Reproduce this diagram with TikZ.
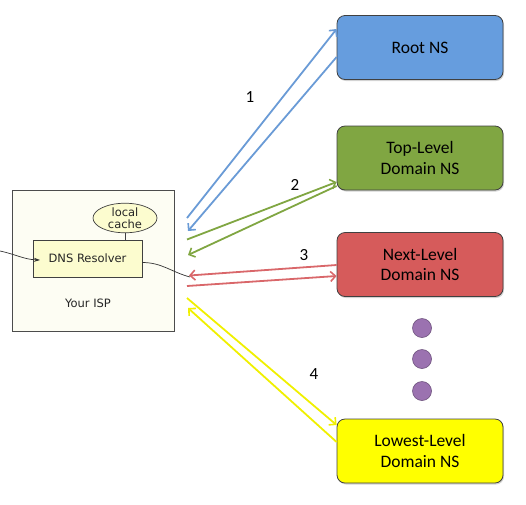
\documentclass[tikz,border=0pt]{standalone}
\usepackage{fontspec}
\setmainfont{Carlito}
\newfontfamily\ispfont{DejaVu Sans}
\usetikzlibrary{arrows.meta,shapes.geometric,shadows,calc}
\definecolor{rootfill}{HTML}{669DDE}
\definecolor{tldfill}{HTML}{80A642}
\definecolor{nextfill}{HTML}{D65B5B}
\definecolor{lowfill}{HTML}{FFFF00}
\definecolor{dotfill}{HTML}{9B72B0}
\definecolor{bluearr}{HTML}{6A9BD6}
\definecolor{greenarr}{HTML}{80A642}
\definecolor{redarr}{HTML}{D9676A}
\definecolor{yellowarr}{HTML}{F0F000}
\definecolor{ispfill}{HTML}{FDFDF3}
\definecolor{resfill}{HTML}{FCFCCF}
\begin{document}
\begin{tikzpicture}[x=1pt,y=-1pt,
  nsbox/.style={draw=black!75, line width=0.8pt, rounded corners=8pt,
    minimum width=166pt, minimum height=64pt, align=center,
    font=\fontsize{17.5}{20.5}\selectfont,
    drop shadow={opacity=0.35, shadow xshift=1pt, shadow yshift=-1.5pt}},
  dotnode/.style={circle, draw=dotfill!70!black, line width=0.6pt, fill=dotfill, minimum size=19pt, inner sep=0pt},
  arr/.style={line width=1.8pt, -{Straight Barb[length=5pt,width=10pt,line width=1.6pt]}},
  num/.style={font=\fontsize{17}{19}\selectfont, text=black},
  isptext/.style={font=\ispfont\fontsize{11.5}{12}\selectfont, text=black!85}]
\useasboundingbox (0,0) rectangle (526,504);

% NS boxes
\node[nsbox, fill=rootfill] (root) at (420,47.5) {Root NS};
\node[nsbox, fill=tldfill] (tld) at (420,158) {Top-Level\\Domain NS};
\node[nsbox, fill=nextfill] (next) at (420,264.5) {Next-Level\\Domain NS};
\node[nsbox, fill=lowfill] (low) at (420,451) {Lowest-Level\\Domain NS};

% dots
\node[dotnode] (d1) at (422,328) {};
\node[dotnode] (d2) at (422,359) {};
\node[dotnode] (d3) at (422,391) {};

% ISP box
\node[draw=black!70, line width=0.7pt, fill=ispfill, minimum width=162pt, minimum height=141pt] (isp) at (93,260.5) {};
\node[isptext] (isplabel) at (88,303) {Your ISP};
\node[draw=black!75, line width=0.7pt, fill=resfill, minimum width=109pt, minimum height=37pt, isptext] (res) at (87.5,258.5) {DNS Resolver};
\node[ellipse, draw=black!75, line width=0.7pt, fill=resfill, minimum width=64pt, minimum height=29pt, inner sep=0pt, align=center, isptext, font=\ispfont\fontsize{11.5}{12}\selectfont] (cache) at (125,218) {local\\cache};
\draw[black!75, line width=0.7pt] (cache.south) -- (cache.south |- res.north);

% client link
\coordinate (client) at (0,251);
\coordinate (restip) at (40,260);
\draw[black!80, line width=0.7pt, -{Stealth[length=6pt,width=4pt]}] (client) to[out=-12,in=178] (restip);
\coordinate (outend) at (190,277);
\coordinate (resout) at ($(res.east)+(0,4)$);
\draw[black!80, line width=0.7pt] (resout) to[out=0,in=165] (outend);

% ISP-side endpoints
\coordinate (b1s) at (187,218);
\coordinate (b2e) at (188,231);
\coordinate (g1s) at (187,239.5);
\coordinate (g2e) at (188,255);
\coordinate (r1e) at (189,275.5);
\coordinate (r2s) at (187,286);
\coordinate (y1s) at (187,298);
\coordinate (y2e) at (188,308);

% NS-side endpoints
\coordinate (b1e) at ($(root.west)+(0,-18.5)$);
\coordinate (b2s) at ($(root.west)+(0,9.5)$);
\coordinate (g1e) at ($(tld.west)+(0,24)$);
\coordinate (g2s) at ($(tld.west)+(0,28)$);
\coordinate (r1s) at ($(next.west)+(0,0.5)$);
\coordinate (r2e) at ($(next.west)+(0,11.5)$);
\coordinate (y1e) at ($(low.west)+(0,-26)$);
\coordinate (y2s) at ($(low.west)+(0,-9)$);

\draw[arr, bluearr] (b1s) -- (b1e);
\draw[arr, bluearr] (b2s) -- (b2e);
\draw[arr, greenarr] (g1s) -- (g1e);
\draw[arr, greenarr] (g2s) -- (g2e);
\draw[arr, redarr] (r1s) -- (r1e);
\draw[arr, redarr] (r2s) -- (r2e);
\draw[arr, yellowarr] (y1s) -- (y1e);
\draw[arr, yellowarr] (y2s) -- (y2e);

% numbers
\node[num] (n1) at (250,97) {1};
\node[num] (n2) at (295,185) {2};
\node[num] (n3) at (304,255) {3};
\node[num] (n4) at (314,374) {4};
\end{tikzpicture}
\end{document}
